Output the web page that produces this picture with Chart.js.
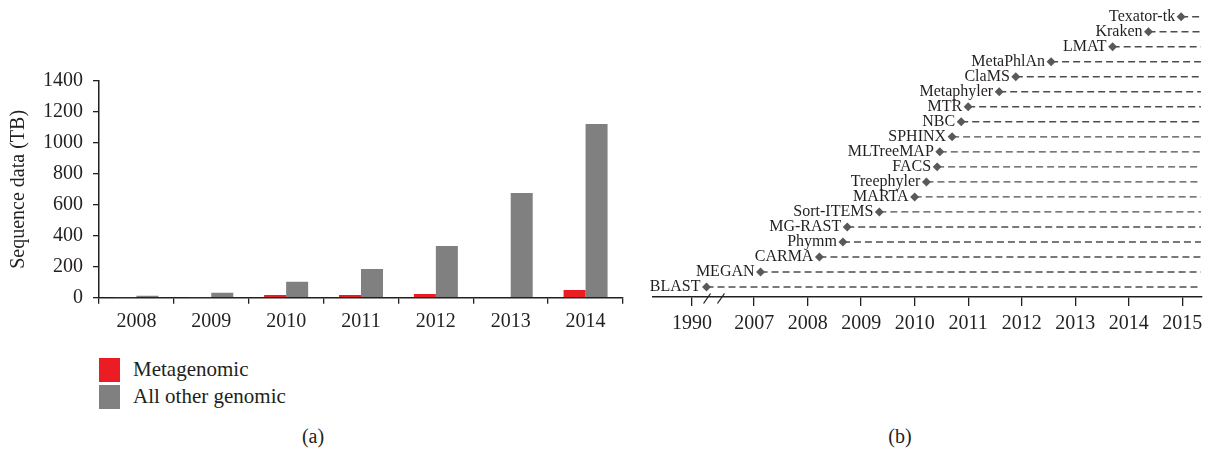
<!DOCTYPE html>
<html>
<head>
<meta charset="utf-8">
<script src="https://cdn.jsdelivr.net/npm/chart.js@4.4.1/dist/chart.umd.min.js"></script>
<style>
  body { margin: 0; background: #fff; width: 1210px; height: 449px; position: relative; overflow: hidden;
         font-family: "Liberation Serif", serif; color: #231f20; }
  #wrapA { position: absolute; left: 0; top: 0; width: 640px; height: 345px; }
  #wrapB { position: absolute; left: 640px; top: 0; width: 570px; height: 345px; }
  #legend { position: absolute; left: 99px; top: 356px; font-size: 21px; }
  .item { display: flex; align-items: center; height: 27px; }
  .swatch { width: 21px; height: 24px; margin-right: 13px; }
  .cap { position: absolute; top: 425px; font-size: 20px; transform: translateX(-50%); }
</style>
</head>
<body>
<div id="wrapA"><canvas id="chartA" width="640" height="345"></canvas></div>
<div id="wrapB"><canvas id="chartB" width="570" height="345"></canvas></div>
<div id="legend"></div>
<div class="cap" style="left:313px">(a)</div>
<div class="cap" style="left:900px">(b)</div>
<script>
// (a) sequence data per year
const years = ['2008', '2009', '2010', '2011', '2012', '2013', '2014'];
const metagenomic = [3, 3, 18, 17, 24, 0, 50];
const otherGenomic = [12, 32, 103, 185, 334, 676, 1122];
const yTicksA = [0, 200, 400, 600, 800, 1000, 1200, 1400];
const seriesNames = ['Metagenomic', 'All other genomic'];
const seriesColors = ['#ec1c24', '#808080'];

// (b) tools and release dates
const tools = ['BLAST', 'MEGAN', 'CARMA', 'Phymm', 'MG-RAST', 'Sort-ITEMS', 'MARTA', 'Treephyler', 'FACS',
  'MLTreeMAP', 'SPHINX', 'NBC', 'MTR', 'Metaphyler', 'ClaMS', 'MetaPhlAn', 'LMAT', 'Kraken', 'Texator-tk'];
const released = [1990.27, 2007.12, 2008.22, 2008.66, 2008.74, 2009.34, 2010.0, 2010.22, 2010.42,
  2010.47, 2010.7, 2010.87, 2011.0, 2011.58, 2011.89, 2012.55, 2013.7, 2014.37, 2014.98];
const inUseUntil = 2015.35;
const tickYears = [1990, 2007, 2008, 2009, 2010, 2011, 2012, 2013, 2014, 2015];

// axis break: 1991..2006 squeezed out
const breakShift = 15.84;
const toAxis = y => (y < 2000 ? y + breakShift : y);
const breakMarks = [2006.12, 2006.38];

const ink = '#231f20';
Chart.defaults.font.family = '"Liberation Serif", serif';
Chart.defaults.font.size = 20;
Chart.defaults.color = ink;

// legend
document.getElementById('legend').innerHTML = seriesNames.map((n, i) =>
  `<div class="item"><div class="swatch" style="background:${seriesColors[i]}"></div>${n}</div>`).join('');

new Chart(document.getElementById('chartA'), {
  type: 'bar',
  data: {
    labels: years,
    datasets: [
      { label: seriesNames[0], data: metagenomic, backgroundColor: seriesColors[0] },
      { label: seriesNames[1], data: otherGenomic, backgroundColor: seriesColors[1] }
    ]
  },
  options: {
    responsive: false,
    animation: false,
    categoryPercentage: 0.588,
    barPercentage: 1,
    layout: { padding: { top: 81, right: 17, left: 0, bottom: 0 } },
    plugins: { legend: { display: false }, tooltip: { enabled: false } },
    scales: {
      x: {
        grid: { drawOnChartArea: false, tickLength: 6, color: ink, lineWidth: 1.3 },
        border: { color: ink, width: 1.5 },
        ticks: { padding: 6 },
        afterFit: s => { s.height = 47.3; }
      },
      y: {
        min: 0, max: 1400,
        afterBuildTicks: s => { s.ticks = yTicksA.map(v => ({ value: v })); },
        grid: { drawOnChartArea: false, tickLength: 6, color: ink, lineWidth: 1.3 },
        border: { color: ink, width: 1.5 },
        ticks: { padding: 10, callback: v => String(v) },
        title: { display: true, text: 'Sequence data (TB)', padding: { top: 7 } },
        afterFit: s => { s.width = 99; }
      }
    }
  }
});

const toolLabels = {
  id: 'toolLabels',
  afterDatasetsDraw(chart) {
    const ctx = chart.ctx;
    ctx.save();
    ctx.font = '16px "Liberation Serif", serif';
    ctx.fillStyle = ink;
    ctx.textAlign = 'right';
    ctx.textBaseline = 'middle';
    tools.forEach((t, i) => {
      const p = chart.getDatasetMeta(i).data[0];
      ctx.fillText(t, p.x - 6, p.y);
    });
    ctx.restore();
  },
  afterDraw(chart) {
    const ctx = chart.ctx, x = chart.scales.x, yb = chart.chartArea.bottom;
    ctx.save();
    ctx.strokeStyle = ink;
    ctx.lineWidth = 1.3;
    breakMarks.forEach(b => {
      const px = x.getPixelForValue(b);
      ctx.beginPath();
      ctx.moveTo(px - 3.5, yb + 6.5);
      ctx.lineTo(px + 3.5, yb - 3.5);
      ctx.stroke();
    });
    ctx.restore();
  }
};

new Chart(document.getElementById('chartB'), {
  type: 'line',
  data: {
    datasets: tools.map((t, i) => ({
      label: t,
      data: [{ x: toAxis(released[i]), y: i }, { x: inUseUntil, y: i }],
      borderColor: '#4d4d4f',
      borderWidth: 1.4,
      borderDash: [7, 4],
      pointStyle: 'rectRot',
      pointRadius: [3.5, 0],
      pointBackgroundColor: '#58595b',
      pointBorderColor: '#58595b'
    }))
  },
  options: {
    responsive: false,
    animation: false,
    layout: { padding: { top: 8, right: 8, left: 13, bottom: 0 } },
    plugins: { legend: { display: false }, tooltip: { enabled: false } },
    scales: {
      x: {
        type: 'linear',
        min: 2005.11, max: 2015.37,
        afterBuildTicks: s => { s.ticks = tickYears.map(v => ({ value: toAxis(v) })); },
        grid: { drawOnChartArea: false, tickLength: 9, color: ink, lineWidth: 1.3 },
        border: { color: ink, width: 1.5 },
        ticks: { padding: 6, autoSkip: false, maxRotation: 0, callback: (v, i) => String(tickYears[i]) },
        afterFit: s => { s.height = 48; }
      },
      y: { type: 'linear', display: false, min: -0.666, max: 18.58 }
    }
  },
  plugins: [toolLabels]
});
</script>
</body>
</html>
